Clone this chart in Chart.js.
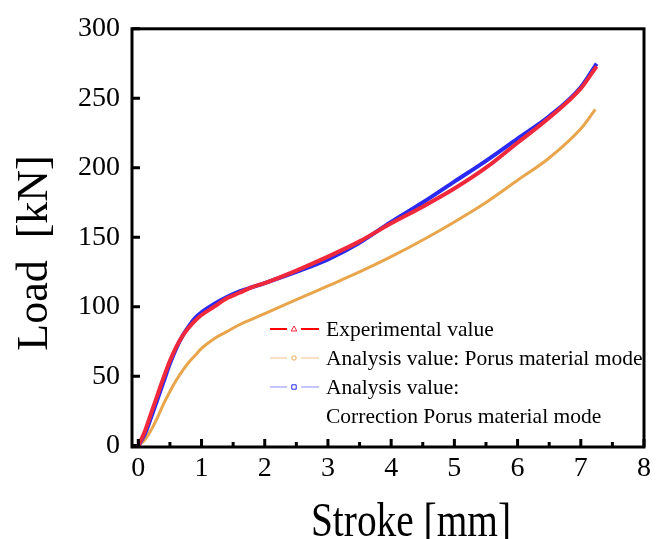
<!DOCTYPE html>
<html>
<head>
<meta charset="utf-8">
<script src="https://cdn.jsdelivr.net/npm/chart.js@4.4.1/dist/chart.umd.min.js"></script>
<style>
  html, body { margin: 0; padding: 0; background: #ffffff; }
  #wrap { width: 656px; height: 539px; }
</style>
</head>
<body>
<div id="wrap"><canvas id="c" width="656" height="539"></canvas></div>
<script>
// Load–stroke curves: stroke in mm, load in kN
const strokeExp = [0, 0.1, 0.2, 0.3, 0.4, 0.5, 0.6, 0.7, 0.8, 0.9, 1.0, 1.2, 1.4, 1.6, 1.8, 2.0, 2.5, 3.0, 3.5, 4.0, 4.5, 5.0, 5.5, 6.0, 6.5, 7.0, 7.25];
const loadExp   = [0, 10, 23, 36, 49, 61, 71, 79, 85, 90, 94, 100, 106, 110, 114, 117, 126, 136, 147, 160, 172, 185, 200, 218, 236, 257, 273];

const strokePorous = [0, 0.1, 0.2, 0.3, 0.4, 0.5, 0.6, 0.7, 0.8, 0.9, 1.0, 1.2, 1.4, 1.6, 1.8, 2.0, 2.5, 3.0, 3.5, 4.0, 4.5, 5.0, 5.5, 6.0, 6.5, 7.0, 7.23];
const loadPorous   = [0, 4, 11, 20, 30, 39, 47, 54, 60, 65, 70, 77, 82, 87, 91, 95, 105, 115, 125, 136, 148, 161, 175, 191, 207, 228, 242];

const strokeCorr = [0, 0.1, 0.2, 0.3, 0.4, 0.5, 0.6, 0.7, 0.8, 0.9, 1.0, 1.2, 1.4, 1.6, 1.8, 2.0, 2.5, 3.0, 3.5, 4.0, 4.5, 5.0, 5.5, 6.0, 6.5, 7.0, 7.25];
const loadCorr   = [0, 8, 20, 33, 46, 59, 70, 79, 86, 92, 96, 102, 107, 111, 114, 117, 125, 134, 146, 161, 175, 190, 205, 221, 237, 258, 275];

const xTicks = [0, 1, 2, 3, 4, 5, 6, 7, 8];
const yTicks = [0, 50, 100, 150, 200, 250, 300];

const seriesLabels = [
  ['Experimental value'],
  ['Analysis value: Porus material mode'],
  ['Analysis value:', 'Correction Porus material mode']
];
const seriesColors = ['#f0283c', '#e9a54c', '#2a2af2'];
const legendLineColors = ['#ff0000', '#f3bf86', '#8a8af8'];
const seriesMarkers = ['triangle', 'circle', 'rect'];

const SERIF = '"Liberation Serif", "Times New Roman", serif';

function pairs(xs, ys) { return xs.map((x, i) => ({ x: x, y: ys[i] })); }

// Box frame with inward ticks
const framePlugin = {
  id: 'frame',
  afterDraw(chart) {
    const { ctx, chartArea: a, scales } = chart;
    ctx.save();
    ctx.strokeStyle = '#000';
    ctx.lineWidth = 3;
    ctx.strokeRect(a.left, a.top, a.right - a.left, a.bottom - a.top);
    ctx.beginPath();
    xTicks.forEach(v => {
      const px = scales.x.getPixelForValue(v);
      ctx.moveTo(px, a.bottom); ctx.lineTo(px, a.bottom - 8);
    });
    for (let i = 0; i < xTicks.length - 1; i++) {
      const px = scales.x.getPixelForValue((xTicks[i] + xTicks[i + 1]) / 2);
      ctx.moveTo(px, a.bottom); ctx.lineTo(px, a.bottom - 5);
    }
    yTicks.forEach(v => {
      const py = scales.y.getPixelForValue(v);
      ctx.moveTo(a.left, py); ctx.lineTo(a.left + 8, py);
    });
    ctx.stroke();
    ctx.restore();
  }
};

function drawMarker(ctx, kind, x, y, color) {
  ctx.save();
  ctx.strokeStyle = color;
  ctx.lineWidth = 1;
  ctx.beginPath();
  if (kind === 'triangle') {
    ctx.moveTo(x, y - 3); ctx.lineTo(x + 2.8, y + 2); ctx.lineTo(x - 2.8, y + 2); ctx.closePath();
  } else if (kind === 'circle') {
    ctx.arc(x, y, 2.2, 0, Math.PI * 2);
  } else {
    ctx.rect(x - 2.2, y - 2.2, 4.4, 4.4);
  }
  ctx.stroke();
  ctx.restore();
}

// Legend inside the plot, plus axis titles
const annotatePlugin = {
  id: 'annotate',
  afterDraw(chart) {
    const { ctx } = chart;
    ctx.save();
    ctx.fillStyle = '#000';
    ctx.textBaseline = 'middle';
    ctx.textAlign = 'left';
    ctx.font = '21.5px ' + SERIF;
    let y = 329;
    const rowH = 29;
    seriesLabels.forEach((lines, i) => {
      ctx.strokeStyle = legendLineColors[i];
      ctx.lineWidth = i === 0 ? 2 : 1;
      ctx.beginPath();
      ctx.moveTo(270, y); ctx.lineTo(287, y);
      ctx.moveTo(301, y); ctx.lineTo(319, y);
      ctx.stroke();
      drawMarker(ctx, seriesMarkers[i], 294, y, seriesColors[i]);
      lines.forEach((t, j) => {
        ctx.fillText(t, 326, y + 1 + j * rowH);
      });
      y += rowH * lines.length;
    });

    // x-axis title
    ctx.save();
    ctx.font = '48px ' + SERIF;
    ctx.textAlign = 'center';
    ctx.textBaseline = 'alphabetic';
    ctx.translate(411, 536);
    ctx.scale(0.82, 1);
    ctx.fillText('Stroke [mm]', 0, 0);
    ctx.restore();

    // y-axis title
    ctx.save();
    ctx.font = '44px ' + SERIF;
    ctx.textAlign = 'center';
    ctx.textBaseline = 'alphabetic';
    ctx.translate(47, 253);
    ctx.rotate(-Math.PI / 2);
    ctx.fillText('Load  [kN]', 0, 0);
    ctx.restore();

    ctx.restore();
  }
};

const lineDefaults = {
  borderWidth: 4,
  pointRadius: 0,
  fill: false,
  cubicInterpolationMode: 'monotone'
};

new Chart(document.getElementById('c'), {
  type: 'line',
  data: {
    datasets: [
      Object.assign({ label: seriesLabels[0].join(' '), data: pairs(strokeExp, loadExp), borderColor: seriesColors[0] }, lineDefaults),
      Object.assign({ label: seriesLabels[2].join(' '), data: pairs(strokeCorr, loadCorr), borderColor: seriesColors[2] }, lineDefaults),
      Object.assign({ label: seriesLabels[1].join(' '), data: pairs(strokePorous, loadPorous), borderColor: seriesColors[1] }, lineDefaults, { borderWidth: 3 })
    ]
  },
  options: {
    responsive: false,
    animation: false,
    devicePixelRatio: 1,
    layout: { padding: { top: 24, right: 7, left: 0, bottom: 0 } },
    plugins: { legend: { display: false }, tooltip: { enabled: false } },
    scales: {
      x: {
        type: 'linear',
        min: -0.1,
        max: 8,
        afterBuildTicks(s) { s.ticks = xTicks.map(v => ({ value: v })); },
        afterFit(s) { s.height = 92; },
        grid: { display: false, drawTicks: false },
        border: { display: false },
        ticks: { color: '#000', padding: 5, maxRotation: 0, font: { family: SERIF, size: 28 } }
      },
      y: {
        type: 'linear',
        min: -1,
        max: 300,
        afterBuildTicks(s) { s.ticks = yTicks.map(v => ({ value: v })); },
        afterFit(s) { s.width = 132; },
        grid: { display: false, drawTicks: false },
        border: { display: false },
        ticks: { color: '#000', padding: 12, font: { family: SERIF, size: 28 } }
      }
    }
  },
  plugins: [framePlugin, annotatePlugin]
});
</script>
</body>
</html>
